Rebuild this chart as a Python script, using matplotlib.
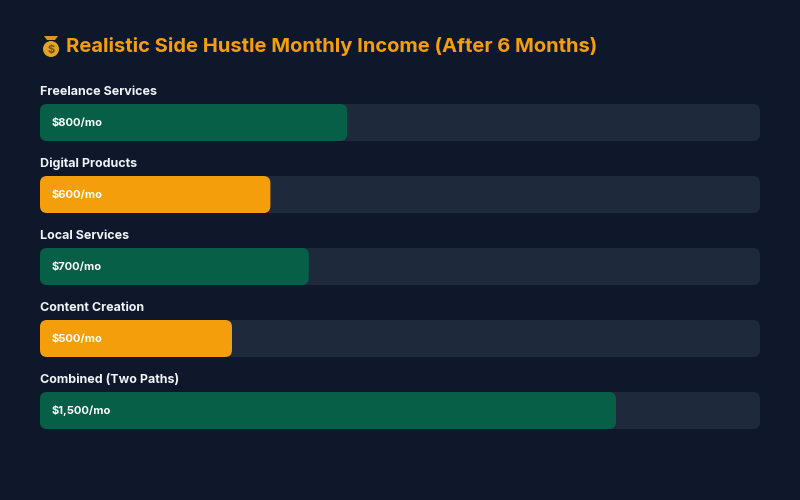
import matplotlib
matplotlib.use('Agg')
import matplotlib.pyplot as plt
from matplotlib.patches import FancyBboxPatch, Circle, Polygon

plt.rcParams['font.family'] = ['Inter', 'DejaVu Sans']

categories = ['Freelance Services', 'Digital Products', 'Local Services',
              'Content Creation', 'Combined (Two Paths)']
incomes = [800, 600, 700, 500, 1500]
value_labels = ['$800/mo', '$600/mo', '$700/mo', '$500/mo', '$1,500/mo']
scale_max = 1875

BG = '#0f172a'
TRACK = '#1e293b'
GREEN = '#065f46'
ORANGE = '#f59e0b'
bar_colors = [GREEN, ORANGE, GREEN, ORANGE, GREEN]

fig = plt.figure(figsize=(8, 5), dpi=100, facecolor=BG)
ax = fig.add_axes([0, 0, 1, 1])
ax.set_xlim(0, 800)
ax.set_ylim(500, 0)
ax.axis('off')
ax.set_facecolor(BG)

# money bag icon (no emoji font installed)
ax.add_patch(Polygon([(47, 40), (55, 40), (58, 36), (44, 36)], closed=True,
                     fc='#d99a1e', ec='none'))
ax.add_patch(Circle((51, 49), 8, fc='#e0a526', ec='none'))
ax.text(51, 49.5, '$', color='#7a4e0a', fontsize=8, fontweight='bold',
        ha='center', va='center')

ax.text(66, 47, 'Realistic Side Hustle Monthly Income (After 6 Months)',
        color=ORANGE, fontsize=14.5, fontweight='bold', va='center', ha='left')

left, track_w, bar_h = 40, 720, 37
for i, (cat, val, lab, col) in enumerate(zip(categories, incomes, value_labels, bar_colors)):
    top = 104 + i * 72
    ax.text(left, top - 12, cat, color='#f1f5f9', fontsize=9, fontweight='bold',
            va='center', ha='left')
    ax.add_patch(FancyBboxPatch((left, top), track_w, bar_h,
                                boxstyle='round,pad=0,rounding_size=7',
                                fc=TRACK, ec='none'))
    w = val / scale_max * track_w
    ax.add_patch(FancyBboxPatch((left, top), w, bar_h,
                                boxstyle='round,pad=0,rounding_size=7',
                                fc=col, ec='none'))
    ax.text(left + 12, top + bar_h / 2 + 0.5, lab, color='white', fontsize=8,
            fontweight='bold', va='center', ha='left')

fig.savefig('out.png', dpi=100, facecolor=BG)
